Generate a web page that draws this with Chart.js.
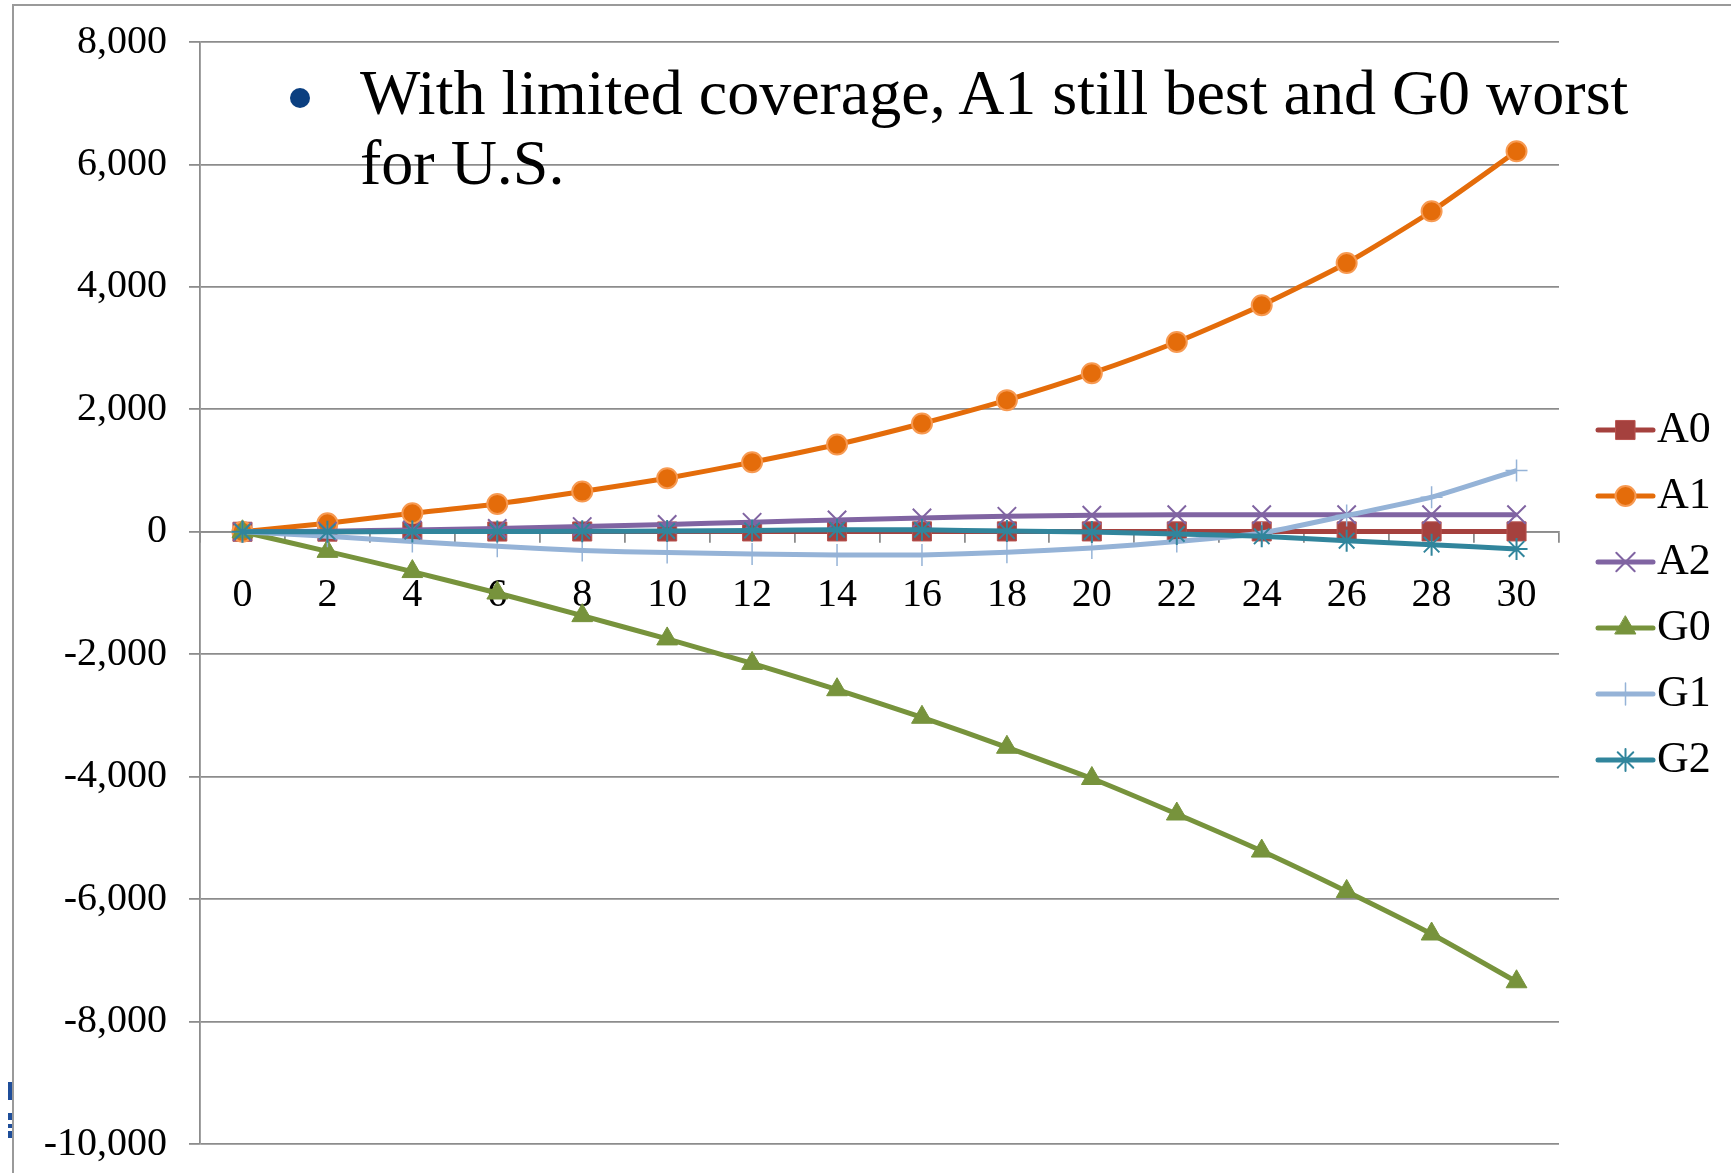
<!DOCTYPE html>
<html>
<head>
<meta charset="utf-8">
<script src="https://cdn.jsdelivr.net/npm/chart.js@4.4.1/dist/chart.umd.min.js"></script>
<style>
  html, body { margin: 0; padding: 0; background: #ffffff; }
  #wrap { position: relative; width: 1731px; height: 1173px; overflow: hidden; background: #ffffff; }
  #frame { position: absolute; left: 12px; top: 4px; width: 1730px; height: 1180px;
           border-left: 2px solid #9a9a9a; border-top: 2px solid #9a9a9a; }
  #chart { position: absolute; left: 0; top: 0; }
  #note { position: absolute; left: 360px; top: 58px; font-family: "Liberation Serif", "Times New Roman", serif;
          font-size: 64px; line-height: 70px; color: #000; white-space: nowrap; }
  #note .dot { position: absolute; left: -70px; top: 30px; width: 20px; height: 20px; border-radius: 50%; background: #0b3f80; }
  .clip { position: absolute; left: 8px; width: 4px; background: #1f4e9a; }
</style>
</head>
<body>
<div id="wrap">
  <div id="frame"></div>
  <canvas id="chart" width="1731" height="1173"></canvas>
  <div id="note"><span class="dot"></span>With limited coverage, A1 still best and G0 worst<br>for U.S.</div>
  <div class="clip" style="top:1082px;height:18px;"></div>
  <div class="clip" style="top:1113px;height:7px;"></div>
  <div class="clip" style="top:1124px;height:4px;"></div>
  <div class="clip" style="top:1131px;height:7px;"></div>
</div>
<script>
// Years since start (every second year)
const years = ['0','2','4','6','8','10','12','14','16','18','20','22','24','26','28','30'];

// Series values
const seriesA0 = [0, 2, 3, 4, 5, 5, 6, 6, 6, 6, 6, 6, 6, 6, 6, 6];
const seriesA1 = [0, 139, 302, 455, 657, 875, 1136, 1425, 1769, 2150, 2590, 3100, 3700, 4390, 5235, 6215];
const seriesA2 = [0, 10, 30, 55, 85, 120, 155, 193, 226, 253, 270, 278, 280, 280, 280, 280];
const seriesG0 = [0, -320, -650, -1000, -1370, -1750, -2150, -2580, -3030, -3520, -4030, -4610, -5215, -5875, -6570, -7350];
const seriesG1 = [0, -75, -160, -235, -305, -340, -362, -378, -378, -335, -265, -160, -20, 265, 565, 1000];
const seriesG2 = [0, 0, 3, 5, 8, 12, 22, 33, 33, 11, -3, -36, -74, -145, -210, -280];

// Y axis range
const yMin = -10000, yMax = 8000, yStep = 2000;

const FONT = '"Liberation Serif", "Times New Roman", serif';
const GRID = '#8c8c8c';

function series(label, data, color, style, fill, border, radius, bw, order) {
  return {
    label, data, order,
    borderColor: color, backgroundColor: color,
    borderWidth: 5, tension: 0.2,
    pointStyle: style, pointRadius: radius, pointHoverRadius: radius,
    pointBackgroundColor: fill, pointBorderColor: border, pointBorderWidth: bw
  };
}

const datasets = [
  series('A0', seriesA0, '#a5413e', 'rect', '#a5413e', '#b85450', 13.5, 1, 6),
  series('A1', seriesA1, '#e46c0a', 'circle', '#e46c0a', '#f79a52', 10, 2, 5),
  series('A2', seriesA2, '#8064a2', 'crossRot', '#8064a2', '#8064a2', 13, 2, 4),
  series('G0', seriesG0, '#77933c', 'triangle', '#77933c', '#77933c', 12, 1, 3),
  series('G1', seriesG1, '#95b3d7', 'cross', '#95b3d7', '#95b3d7', 11, 1.5, 2),
  series('G2', seriesG2, '#31859c', 'star', '#31859c', '#31859c', 11, 2, 1)
];

// Legend drawn at the right: short line with the series marker, then its name
const sideLegend = {
  id: 'sideLegend',
  afterDraw(chart) {
    const ctx = chart.ctx;
    const x0 = 1598, x1 = 1653, tx = 1657, y0 = 430, dy = 66;
    chart.data.datasets.forEach((ds, i) => {
      const y = y0 + i * dy;
      ctx.save();
      ctx.strokeStyle = ds.borderColor;
      ctx.lineWidth = ds.borderWidth;
      ctx.lineCap = 'round';
      ctx.beginPath();
      ctx.moveTo(x0, y);
      ctx.lineTo(x1, y);
      ctx.stroke();
      ctx.fillStyle = ds.pointBackgroundColor;
      ctx.strokeStyle = ds.pointBorderColor;
      ctx.lineWidth = ds.pointBorderWidth;
      Chart.helpers.drawPoint(ctx, {
        pointStyle: ds.pointStyle, rotation: 0,
        radius: ds.pointRadius, borderWidth: ds.pointBorderWidth
      }, (x0 + x1) / 2, y);
      ctx.fillStyle = '#000';
      ctx.font = '44px ' + FONT;
      ctx.textBaseline = 'middle';
      ctx.textAlign = 'left';
      ctx.fillText(ds.label, tx, y);
      ctx.restore();
    });
  }
};

new Chart(document.getElementById('chart'), {
  type: 'line',
  data: { labels: years, datasets },
  options: {
    responsive: false,
    animation: false,
    events: [],
    layout: { padding: { left: 0, right: 172, top: 42, bottom: 29 } },
    plugins: { legend: { display: false }, tooltip: { enabled: false }, title: { display: false } },
    scales: {
      x: {
        type: 'category',
        position: { y: 0 },
        offset: true,
        grid: { display: true, drawOnChartArea: false, drawTicks: true, tickLength: 10,
                offset: true, color: GRID, lineWidth: 1.8 },
        border: { display: true, color: GRID, width: 1.8 },
        ticks: { font: { family: FONT, size: 40 }, color: '#000', padding: 30, maxRotation: 0, autoSkip: false }
      },
      y: {
        min: yMin, max: yMax,
        afterFit(scale) {
          scale.width = 200;
          // the layout padding already leaves room for the end labels
          scale.paddingTop = 0;
          scale.paddingBottom = 0;
        },
        grid: { color: GRID, lineWidth: 1.8, drawTicks: true, tickLength: 11 },
        border: { display: true, color: GRID, width: 1.8 },
        ticks: { stepSize: yStep, font: { family: FONT, size: 40 }, color: '#000', padding: 22 }
      }
    }
  },
  plugins: [sideLegend]
});
</script>
</body>
</html>
